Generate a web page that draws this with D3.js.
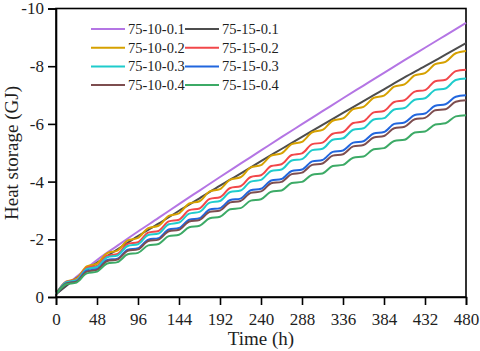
<!DOCTYPE html>
<html>
<head>
<meta charset="utf-8">
<script src="https://cdn.jsdelivr.net/npm/d3@7"></script>
<style>
  body { margin: 0; background: #fff; }
  svg text { font-family: "Liberation Serif", "Times New Roman", serif; font-weight: 400; fill: #1e1e1e; }
</style>
</head>
<body>
<div id="chart"></div>
<script>
// Time grids (h)
const dayHours = d3.range(0, 481, 24);
const halfDayHours = d3.range(0, 481, 12);

// Series values (GJ)
const s75_10_01 = [-0.10, -0.70, -1.28, -1.78, -2.27, -2.74, -3.22, -3.69, -4.16, -4.62, -5.08,
  -5.54, -5.99, -6.44, -6.89, -7.33, -7.77, -8.21, -8.64, -9.07, -9.50];
const s75_15_01 = [-0.10, -0.66, -1.19, -1.65, -2.11, -2.54, -2.99, -3.42, -3.86, -4.28, -4.71,
  -5.13, -5.55, -5.97, -6.38, -6.79, -7.20, -7.61, -8.00, -8.40, -8.80];
const s75_10_02 = [-0.10, -0.53, -0.64, -1.06, -1.16, -1.52, -1.61, -1.96, -2.05, -2.39, -2.47,
  -2.81, -2.90, -3.24, -3.32, -3.66, -3.74, -4.07, -4.15, -4.49, -4.57, -4.90, -4.98, -5.30, -5.38,
  -5.71, -5.79, -6.11, -6.19, -6.51, -6.59, -6.90, -6.98, -7.29, -7.37, -7.68, -7.76, -8.07, -8.15,
  -8.45, -8.53];
const s75_15_02 = [-0.10, -0.53, -0.60, -1.01, -1.08, -1.43, -1.49, -1.84, -1.90, -2.23, -2.29,
  -2.62, -2.68, -3.01, -3.07, -3.40, -3.46, -3.78, -3.84, -4.16, -4.22, -4.54, -4.60, -4.92, -4.98,
  -5.30, -5.35, -5.66, -5.72, -6.03, -6.09, -6.40, -6.45, -6.76, -6.82, -7.12, -7.17, -7.48, -7.53,
  -7.83, -7.88];
const s75_10_03 = [-0.10, -0.51, -0.58, -0.97, -1.04, -1.38, -1.44, -1.77, -1.83, -2.15, -2.20,
  -2.52, -2.58, -2.89, -2.95, -3.27, -3.33, -3.64, -3.69, -4.00, -4.06, -4.37, -4.42, -4.73, -4.78,
  -5.09, -5.14, -5.45, -5.50, -5.80, -5.85, -6.15, -6.20, -6.50, -6.55, -6.84, -6.89, -7.18, -7.23,
  -7.52, -7.57];
const s75_15_03 = [-0.10, -0.47, -0.54, -0.91, -0.97, -1.28, -1.33, -1.64, -1.69, -1.99, -2.04,
  -2.34, -2.39, -2.68, -2.73, -3.03, -3.08, -3.36, -3.41, -3.70, -3.75, -4.04, -4.09, -4.37, -4.42,
  -4.70, -4.75, -5.03, -5.08, -5.35, -5.40, -5.67, -5.72, -6.00, -6.05, -6.31, -6.36, -6.63, -6.68,
  -6.94, -6.99];
const s75_10_04 = [-0.10, -0.47, -0.53, -0.88, -0.94, -1.25, -1.30, -1.60, -1.65, -1.94, -1.99,
  -2.28, -2.33, -2.62, -2.67, -2.95, -3.00, -3.28, -3.33, -3.61, -3.66, -3.94, -3.99, -4.26, -4.31,
  -4.58, -4.63, -4.90, -4.95, -5.22, -5.27, -5.53, -5.58, -5.85, -5.90, -6.16, -6.21, -6.47, -6.51,
  -6.77, -6.82];
const s75_15_04 = [-0.10, -0.44, -0.50, -0.82, -0.88, -1.16, -1.21, -1.48, -1.53, -1.79, -1.84,
  -2.11, -2.16, -2.42, -2.47, -2.73, -2.78, -3.04, -3.08, -3.34, -3.39, -3.65, -3.69, -3.95, -3.99,
  -4.24, -4.28, -4.54, -4.58, -4.83, -4.87, -5.12, -5.16, -5.41, -5.45, -5.70, -5.74, -5.98, -6.02,
  -6.26, -6.30];

const seriesNames = ["75-10-0.1", "75-15-0.1", "75-10-0.2", "75-15-0.2",
  "75-10-0.3", "75-15-0.3", "75-10-0.4", "75-15-0.4"];
const seriesValues = [s75_10_01, s75_15_01, s75_10_02, s75_15_02, s75_10_03, s75_15_03, s75_10_04, s75_15_04];
const seriesTimes = [dayHours, dayHours, halfDayHours, halfDayHours, halfDayHours, halfDayHours, halfDayHours, halfDayHours];
const seriesColors = ["#b475e4", "#4d4d4d", "#d6a100", "#f2474a", "#1fcccc", "#2166de", "#7d4d4f", "#3caa66"];

const xTicks = d3.range(0, 481, 48);
const yTicks = [0, -2, -4, -6, -8, -10];

// Dimensions
const width = 480, height = 351;
const margin = { top: 8.5, right: 14, bottom: 54, left: 56 };

const svg = d3.select("#chart").append("svg")
  .attr("width", width)
  .attr("height", height);

const x = d3.scaleLinear().domain([0, 480]).range([margin.left, width - margin.right]);
const y = d3.scaleLinear().domain([0, -10]).range([height - margin.bottom, margin.top]);

// Frame
svg.append("rect")
  .attr("x", x(0)).attr("y", y(-10))
  .attr("width", x(480) - x(0)).attr("height", y(0) - y(-10))
  .attr("fill", "none").attr("stroke", "#000").attr("stroke-width", 1.6);

// Lines
const line = d3.line().curve(d3.curveMonotoneX);
const lineG = svg.append("g");
seriesValues.forEach((vals, i) => {
  const pts = vals.map((v, j) => [x(seriesTimes[i][j]), y(v)]);
  lineG.append("path")
    .attr("d", line(pts))
    .attr("fill", "none")
    .attr("stroke", seriesColors[i])
    .attr("stroke-width", 2);
});

// Axes
const xAxisG = svg.append("g").attr("transform", `translate(0,${y(0)})`);
xAxisG.call(d3.axisBottom(x).tickValues(d3.range(24, 480, 48)).tickSize(5).tickFormat(""));
xAxisG.call(d3.axisBottom(x).tickValues(xTicks).tickSize(8).tickPadding(8).tickFormat(d3.format("d")));

const yAxisG = svg.append("g").attr("transform", `translate(${x(0)},0)`);
yAxisG.call(d3.axisLeft(y).tickValues([-1, -3, -5, -7, -9]).tickSize(5).tickFormat(""));
yAxisG.call(d3.axisLeft(y).tickValues(yTicks).tickSize(8).tickPadding(4).tickFormat(d => d === 0 ? "0" : String(d)));

svg.selectAll(".domain").attr("stroke", "#000").attr("stroke-width", 1.6);
svg.selectAll(".tick line").attr("stroke", "#000").attr("stroke-width", 1.6);
svg.selectAll(".tick text").style("font-size", "17px").attr("fill", "#1e1e1e");

// Axis titles
svg.append("text")
  .attr("x", (x(0) + x(480)) / 2)
  .attr("y", 345)
  .style("text-anchor", "middle")
  .style("font-size", "19px")
  .text("Time (h)");

svg.append("text")
  .attr("transform", "rotate(-90)")
  .attr("x", -153)
  .attr("y", 18)
  .style("text-anchor", "middle")
  .style("font-size", "19px")
  .text("Heat storage (GJ)");

// Legend (two columns)
const legendOrder = [0, 2, 4, 6, 1, 3, 5, 7];
legendOrder.forEach((si, k) => {
  const col = Math.floor(k / 4), row = k % 4;
  const lx = 91 + col * 94, ly = 29 + row * 18.7;
  svg.append("line")
    .attr("x1", lx).attr("x2", lx + 34)
    .attr("y1", ly).attr("y2", ly)
    .attr("stroke", seriesColors[si]).attr("stroke-width", 2);
  svg.append("text")
    .attr("x", lx + 37).attr("y", ly)
    .attr("dy", "0.35em")
    .style("font-size", "14.5px")
    .text(seriesNames[si]);
});
</script>
</body>
</html>
